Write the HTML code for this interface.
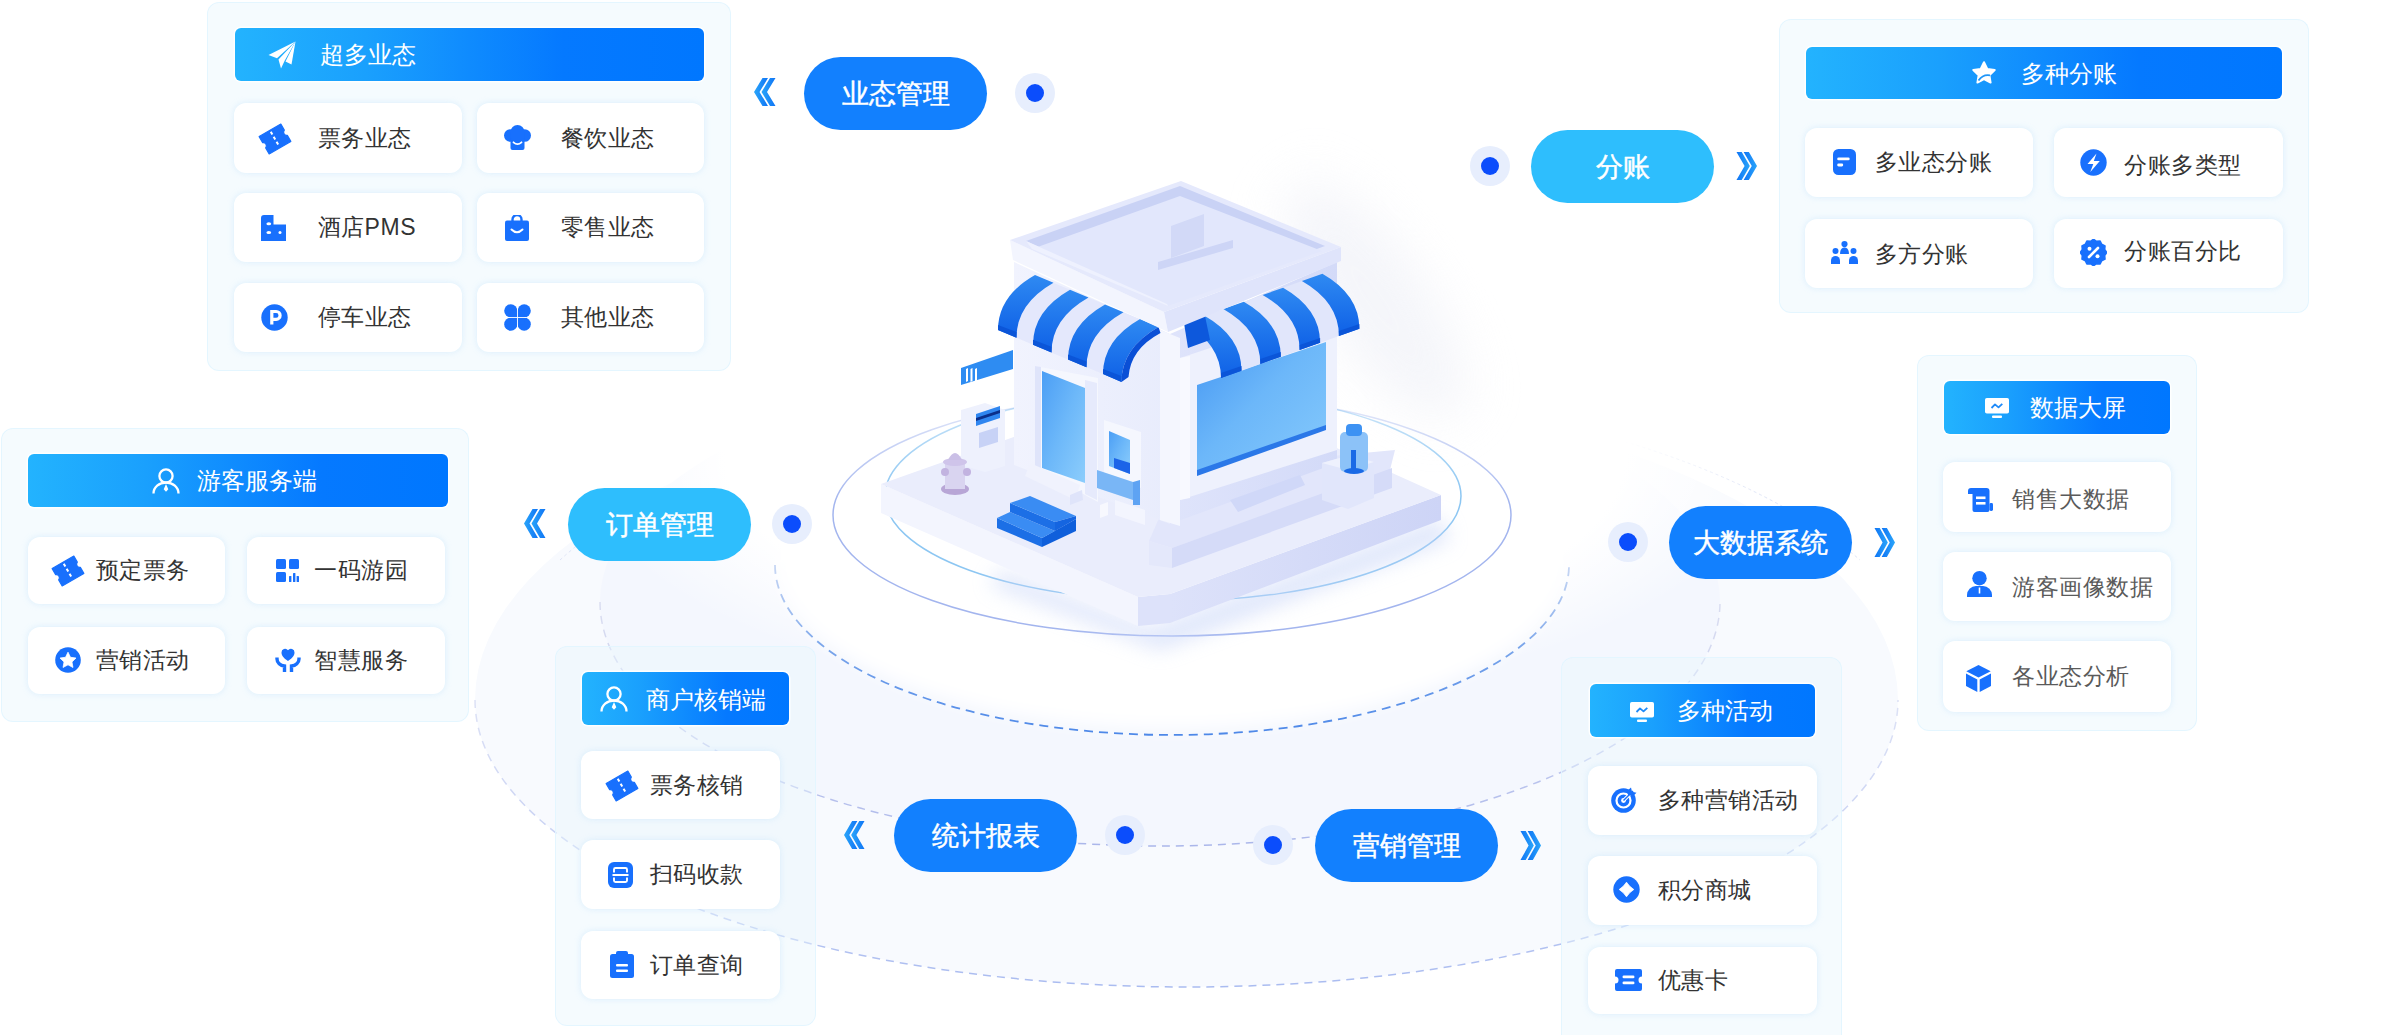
<!DOCTYPE html><html><head><meta charset="utf-8"><style>
*{margin:0;padding:0;box-sizing:border-box;}
html,body{width:2400px;height:1035px;overflow:hidden;background:#fff;}
body{position:relative;font-family:"Liberation Sans", sans-serif;}
.abs{position:absolute;}
.panel{position:absolute;border-radius:12px;background:rgba(232,246,253,0.45);border:1px solid rgba(226,245,255,0.9);}
.card{position:absolute;border-radius:12px;background:#fff;box-shadow:0 0 6px rgba(205,232,252,0.7);}
.hdr{position:absolute;border-radius:6px;box-shadow:0 0 0 1.5px rgba(255,255,255,0.9);background:linear-gradient(90deg,#23b3fe 0%,#1aa0fd 28%,#0f8bfe 50%,#0579ff 70%,#0077ff 100%);}
.htxt{position:absolute;color:#fff;font-size:24px;white-space:nowrap;}
.ctxt{position:absolute;color:#333;font-size:23px;letter-spacing:0.55px;white-space:nowrap;}
.pill{position:absolute;border-radius:40px;background:#1280fe;color:#fff;font-size:27px;text-align:center;-webkit-text-stroke:0.45px #fff;padding-top:1px;}
.pill.light{background:#2ebefd;}
.dot{position:absolute;width:40px;height:40px;border-radius:50%;background:#e7eefd;}
.dot::after{content:"";position:absolute;left:11px;top:11px;width:18px;height:18px;border-radius:50%;background:#0b4dfc;}
</style></head><body>
<svg class="abs" style="left:0;top:0" width="2400" height="1035" viewBox="0 0 2400 1035">
<defs>
<radialGradient id="glow" cx="0.5" cy="0.5" r="0.5"><stop offset="0" stop-color="#fff" stop-opacity="1"/><stop offset="0.75" stop-color="#fff" stop-opacity="1"/><stop offset="1" stop-color="#fff" stop-opacity="0"/></radialGradient>
<linearGradient id="sfade" x1="0" y1="0" x2="0" y2="1"><stop offset="0" stop-color="#a3b5ee" stop-opacity="0.25"/><stop offset="0.45" stop-color="#a3b5ee" stop-opacity="1"/><stop offset="1" stop-color="#a3b5ee" stop-opacity="1"/></linearGradient>
<linearGradient id="sfade2" x1="0" y1="0" x2="0" y2="1"><stop offset="0" stop-color="#8cc6f2" stop-opacity="0.4"/><stop offset="0.5" stop-color="#8cc6f2" stop-opacity="1"/><stop offset="1" stop-color="#8cc6f2" stop-opacity="1"/></linearGradient>
<linearGradient id="dgo" gradientUnits="userSpaceOnUse" x1="0" y1="700" x2="0" y2="990"><stop offset="0" stop-color="#c3cbee" stop-opacity="0.55"/><stop offset="0.6" stop-color="#b4c1f0" stop-opacity="0.8"/><stop offset="1" stop-color="#a9bbf0" stop-opacity="1"/></linearGradient>
<linearGradient id="dgm" gradientUnits="userSpaceOnUse" x1="0" y1="600" x2="0" y2="848"><stop offset="0" stop-color="#c8cce8" stop-opacity="0.6"/><stop offset="0.6" stop-color="#b9c2ec" stop-opacity="0.85"/><stop offset="1" stop-color="#aab6ea" stop-opacity="1"/></linearGradient>
<linearGradient id="dgi" gradientUnits="userSpaceOnUse" x1="0" y1="560" x2="0" y2="735"><stop offset="0" stop-color="#9ab6ea" stop-opacity="0.5"/><stop offset="0.5" stop-color="#6b9be8" stop-opacity="0.9"/><stop offset="1" stop-color="#4d88e8" stop-opacity="1"/></linearGradient>
<filter id="bgblur" x="-20%" y="-20%" width="140%" height="140%"><feGaussianBlur stdDeviation="8"/></filter>
</defs>
<path d="M475,700 A711.5,287 0 0 0 1898,700 A711.5,315 0 0 0 475,700 Z" fill="#f8fafe"/>
<path d="M560,560 A711.5,315 0 0 1 1100,386" fill="none" stroke="#dfe5f7" stroke-width="1" stroke-dasharray="3 3"/>
<path d="M1300,389 A711.5,315 0 0 1 1860,560" fill="none" stroke="#dfe5f7" stroke-width="1" stroke-dasharray="3 3"/>
<ellipse cx="1160" cy="602" rx="560" ry="244" fill="#f4f7fe"/>
<ellipse cx="1175" cy="455" rx="600" ry="250" fill="url(#glow)"/>
<ellipse cx="1172" cy="562" rx="392" ry="166" fill="#fff" filter="url(#bgblur)"/>
<path d="M475,700 A711.5,287 0 0 0 1898,700" fill="none" stroke="url(#dgo)" stroke-width="1.5" stroke-dasharray="8 6"/>
<path d="M600,602 A560,244 0 0 0 1720,602" fill="none" stroke="url(#dgm)" stroke-width="1.5" stroke-dasharray="8 6"/>
<path d="M775,565 A397,170 0 0 0 1569,565" fill="none" stroke="url(#dgi)" stroke-width="1.8" stroke-dasharray="9 6"/>
<ellipse cx="1172" cy="515" rx="339" ry="121" fill="none" stroke="url(#sfade)" stroke-width="1.5"/>
<ellipse cx="1173" cy="496" rx="288" ry="105" fill="none" stroke="url(#sfade2)" stroke-width="1.5"/>
</svg>
<div class="panel" style="left:207px;top:2px;width:524px;height:369px;"></div>
<div class="hdr" style="left:235px;top:28px;width:469px;height:53px;"></div>
<div class="abs" style="left:268.0px;top:41.3px;width:28px;height:28px;"><svg width="28" height="28" viewBox="0 0 28 28" style="display:block"><path d="M27.5 0.5 L0.5 14 l8.5 3.2 z" fill="#fff"/><path d="M27.5 0.5 L10.5 18.5 l2.5 9 3.5-7.5 z" fill="#fff"/><path d="M27.5 0.5 L17.5 20.5 l6 3z" fill="#fff"/></svg></div>
<div class="htxt" style="left:320.4px;top:35px;height:40px;line-height:40px;">超多业态</div>
<div class="card" style="left:234px;top:103px;width:228px;height:70px;"></div>
<div class="abs" style="left:257.6px;top:122.5px;width:34px;height:32px;"><svg width="34" height="32" viewBox="0 0 34 32" style="display:block"><g transform="rotate(-30 17 16)"><path d="M4.5 6 h25 v7 a3.2 3.2 0 0 0 0 6 v7 h-25 v-7 a3.2 3.2 0 0 0 0 -6z" fill="#1870fd" stroke="#1870fd" stroke-width="1.2" stroke-linejoin="round"/><path d="M17 7.5 v17" stroke="#fff" stroke-width="2" stroke-dasharray="3.2 2.6"/></g></svg></div>
<div class="ctxt" style="left:317.5px;top:103px;height:70px;line-height:70px;">票务业态</div>
<div class="card" style="left:477px;top:103px;width:227px;height:70px;"></div>
<div class="abs" style="left:504.1px;top:124.9px;width:27px;height:25px;"><svg width="27" height="25" viewBox="0 0 27 25" style="display:block"><circle cx="6.3" cy="10.5" r="6.3" fill="#1870fd"/><circle cx="20.7" cy="10.5" r="6.3" fill="#1870fd"/><circle cx="13.5" cy="7" r="7" fill="#1870fd"/><rect x="6.3" y="9" width="14.4" height="6" fill="#1870fd"/><rect x="6.5" y="13" width="14" height="12" rx="2" fill="#1870fd"/><path d="M9.5 17.3 q4 3.6 8 0" stroke="#fff" stroke-width="1.8" fill="none" stroke-linecap="round"/></svg></div>
<div class="ctxt" style="left:560.5px;top:103px;height:70px;line-height:70px;">餐饮业态</div>
<div class="card" style="left:234px;top:193px;width:228px;height:69px;"></div>
<div class="abs" style="left:261.1px;top:214.8px;width:25px;height:26px;"><svg width="25" height="26" viewBox="0 0 25 26" style="display:block"><path d="M0 3 a3 3 0 0 1 3-3 h9.5 v9.5 h12.5 v16.5 h-25z" fill="#1870fd"/><ellipse cx="7.8" cy="8.8" rx="2.4" ry="1.5" fill="#fff"/><ellipse cx="7.8" cy="17.5" rx="2.4" ry="1.5" fill="#fff"/><circle cx="19" cy="17.5" r="1.5" fill="#fff"/></svg></div>
<div class="ctxt" style="left:317.5px;top:193px;height:69px;line-height:69px;">酒店PMS</div>
<div class="card" style="left:477px;top:193px;width:227px;height:69px;"></div>
<div class="abs" style="left:504.5px;top:214.7px;width:24px;height:26px;"><svg width="24" height="26" viewBox="0 0 24 26" style="display:block"><path d="M7.5 6 v-1.5 a4.5 4.5 0 0 1 9 0 v1.5" stroke="#1870fd" stroke-width="2.4" fill="none"/><rect x="0" y="5.5" width="24" height="20.5" rx="2" fill="#1870fd"/><path d="M6.5 14.5 q5.5 5.5 11 0" stroke="#fff" stroke-width="2" fill="none" stroke-linecap="round"/></svg></div>
<div class="ctxt" style="left:560.5px;top:193px;height:69px;line-height:69px;">零售业态</div>
<div class="card" style="left:234px;top:283px;width:228px;height:69px;"></div>
<div class="abs" style="left:261.2px;top:304.2px;width:27px;height:27px;"><svg width="27" height="27" viewBox="0 0 27 27" style="display:block"><circle cx="13.5" cy="13.5" r="13.2" fill="#1870fd"/><path d="M10.8 20.5 v-13 h4.4 a3.9 3.9 0 0 1 0 7.8 h-4.4" stroke="#fff" stroke-width="3.2" fill="none"/></svg></div>
<div class="ctxt" style="left:317.5px;top:283px;height:69px;line-height:69px;">停车业态</div>
<div class="card" style="left:477px;top:283px;width:227px;height:69px;"></div>
<div class="abs" style="left:504.0px;top:304.2px;width:27px;height:27px;"><svg width="27" height="27" viewBox="0 0 27 27" style="display:block"><circle cx="6.8" cy="6.8" r="6.6" fill="#1870fd"/><circle cx="20.2" cy="6.8" r="6.6" fill="#1870fd"/><circle cx="6.8" cy="20.2" r="6.6" fill="#1870fd"/><circle cx="20.2" cy="20.2" r="6.6" fill="#1870fd"/><rect x="6.8" y="6.8" width="13.4" height="13.4" fill="#1870fd"/><path d="M13.5 5 v17 M5 13.5 h17" stroke="#fff" stroke-width="0.9"/></svg></div>
<div class="ctxt" style="left:560.5px;top:283px;height:69px;line-height:69px;">其他业态</div>
<div class="panel" style="left:1779px;top:19px;width:530px;height:294px;"></div>
<div class="hdr" style="left:1806px;top:47px;width:476px;height:52px;"></div>
<div class="abs" style="left:1972.0px;top:61.2px;width:24px;height:24px;"><svg width="24" height="24" viewBox="0 0 24 24" style="display:block"><path d="M12 1.2 l3.3 6.7 7.4 1.1 -5.35 5.2 1.25 7.35 -6.6-3.5 -6.6 3.5 1.25-7.35 -5.35-5.2 7.4-1.1z" fill="#fff" stroke="#fff" stroke-width="2" stroke-linejoin="round"/><path d="M6.5 19.5 q4.5-6.5 11.5-5.2" stroke="#1f96f8" stroke-width="1.8" fill="none"/></svg></div>
<div class="htxt" style="left:2021.4px;top:53.5px;height:40px;line-height:40px;">多种分账</div>
<div class="card" style="left:1805px;top:128px;width:228px;height:69px;"></div>
<div class="abs" style="left:1832.5px;top:149.0px;width:23px;height:26px;"><svg width="23" height="26" viewBox="0 0 23 26" style="display:block"><rect x="0" y="0" width="23" height="26" rx="5.5" fill="#1870fd"/><rect x="4.2" y="8.5" width="12.5" height="2.8" rx="1.4" fill="#fff"/><rect x="4.2" y="14.6" width="6" height="2.8" rx="1.4" fill="#fff"/></svg></div>
<div class="ctxt" style="left:1874.5px;top:127.5px;height:69px;line-height:69px;">多业态分账</div>
<div class="card" style="left:2054px;top:128px;width:229px;height:69px;"></div>
<div class="abs" style="left:2080.1px;top:149.1px;width:27px;height:27px;"><svg width="27" height="27" viewBox="0 0 27 27" style="display:block"><circle cx="13.5" cy="13.5" r="13.2" fill="#1870fd"/><path d="M16.5 4.5 l-9 10.5 h5.8 l-3 8 l9.5-11 h-6z" fill="#fff"/></svg></div>
<div class="ctxt" style="left:2124px;top:130.5px;height:69px;line-height:69px;">分账多类型</div>
<div class="card" style="left:1805px;top:219px;width:228px;height:69px;"></div>
<div class="abs" style="left:1830.7px;top:241.2px;width:27px;height:23px;"><svg width="27" height="23" viewBox="0 0 27 23" style="display:block"><circle cx="13.5" cy="3.1" r="3.1" fill="#1870fd"/><circle cx="4.5" cy="10" r="3" fill="#1870fd"/><circle cx="22.5" cy="10" r="3" fill="#1870fd"/><path d="M9.3 12.5 a4.2 4.2 0 0 1 8.4 0 v0.5 h-8.4z" fill="#1870fd"/><path d="M9.3 11 a4.2 4.5 0 0 1 8.4 0 v2 h-8.4z" fill="#1870fd"/><path d="M0 23 v-3.5 a4.5 4.5 0 0 1 9 0 v3.5z" fill="#1870fd"/><path d="M18 23 v-3.5 a4.5 4.5 0 0 1 9 0 v3.5z" fill="#1870fd"/></svg></div>
<div class="ctxt" style="left:1874.5px;top:219.5px;height:69px;line-height:69px;">多方分账</div>
<div class="card" style="left:2054px;top:219px;width:229px;height:69px;"></div>
<div class="abs" style="left:2080.1px;top:239.2px;width:27px;height:27px;"><svg width="27" height="27" viewBox="0 0 27 27" style="display:block"><polygon points="26.80,13.50 24.70,16.50 25.02,20.15 21.70,21.70 20.15,25.02 16.50,24.70 13.50,26.80 10.50,24.70 6.85,25.02 5.30,21.70 1.98,20.15 2.30,16.50 0.20,13.50 2.30,10.50 1.98,6.85 5.30,5.30 6.85,1.98 10.50,2.30 13.50,0.20 16.50,2.30 20.15,1.98 21.70,5.30 25.02,6.85 24.70,10.50" fill="#1870fd" stroke="#1870fd" stroke-width="1.5" stroke-linejoin="round"/><path d="M9 18 l9-9" stroke="#fff" stroke-width="2.6" stroke-linecap="round"/><circle cx="9.5" cy="9.8" r="2" fill="#fff"/><circle cx="17.5" cy="17.2" r="2" fill="#fff"/></svg></div>
<div class="ctxt" style="left:2124px;top:217px;height:69px;line-height:69px;">分账百分比</div>
<div class="panel" style="left:1px;top:428px;width:468px;height:294px;"></div>
<div class="hdr" style="left:28px;top:454px;width:420px;height:53px;"></div>
<div class="abs" style="left:152.2px;top:467.6px;width:28px;height:26px;"><svg width="28" height="26" viewBox="0 0 28 26" style="display:block"><circle cx="14" cy="8" r="6.6" fill="none" stroke="#fff" stroke-width="2.3"/><path d="M1.5 25.5 a12.5 11 0 0 1 25 0" fill="none" stroke="#fff" stroke-width="2.3"/><path d="M14 16 l-2.3 5.2 2.3 2.6 2.3-2.6z" fill="#fff"/></svg></div>
<div class="htxt" style="left:197.4px;top:461px;height:40px;line-height:40px;">游客服务端</div>
<div class="card" style="left:28px;top:537px;width:197px;height:67px;"></div>
<div class="abs" style="left:51.2px;top:555.0px;width:34px;height:32px;"><svg width="34" height="32" viewBox="0 0 34 32" style="display:block"><g transform="rotate(-30 17 16)"><path d="M4.5 6 h25 v7 a3.2 3.2 0 0 0 0 6 v7 h-25 v-7 a3.2 3.2 0 0 0 0 -6z" fill="#1870fd" stroke="#1870fd" stroke-width="1.2" stroke-linejoin="round"/><path d="M17 7.5 v17" stroke="#fff" stroke-width="2" stroke-dasharray="3.2 2.6"/></g></svg></div>
<div class="ctxt" style="left:95.5px;top:537px;height:67px;line-height:67px;">预定票务</div>
<div class="card" style="left:247px;top:537px;width:198px;height:67px;"></div>
<div class="abs" style="left:276.3px;top:558.9px;width:23px;height:23px;"><svg width="23" height="23" viewBox="0 0 23 23" style="display:block"><rect x="0" y="0" width="10" height="10" rx="1.5" fill="#1870fd"/><rect x="13" y="0" width="10" height="10" rx="1.5" fill="#1870fd"/><rect x="0" y="13" width="10" height="10" rx="1.5" fill="#1870fd"/><rect x="13" y="17" width="2.4" height="6" rx="0.6" fill="#1870fd"/><rect x="17" y="14" width="2.4" height="9" rx="0.6" fill="#1870fd"/><rect x="20.6" y="17" width="2.4" height="6" rx="0.6" fill="#1870fd"/></svg></div>
<div class="ctxt" style="left:314px;top:537px;height:67px;line-height:67px;">一码游园</div>
<div class="card" style="left:28px;top:627px;width:197px;height:67px;"></div>
<div class="abs" style="left:55.2px;top:647.2px;width:26px;height:26px;"><svg width="26" height="26" viewBox="0 0 26 26" style="display:block"><circle cx="13" cy="13" r="12.8" fill="#1870fd"/><path d="M13 5.2 l2.45 5.1 5.55 .75 -4.05 3.9 1 5.5 -4.95-2.65 -4.95 2.65 1-5.5 -4.05-3.9 5.55-.75z" fill="#fff" stroke="#fff" stroke-width="0.8" stroke-linejoin="round"/></svg></div>
<div class="ctxt" style="left:95.5px;top:627px;height:67px;line-height:67px;">营销活动</div>
<div class="card" style="left:247px;top:627px;width:198px;height:67px;"></div>
<div class="abs" style="left:274.8px;top:647.2px;width:26px;height:25px;"><svg width="26" height="25" viewBox="0 0 26 25" style="display:block"><path d="M13 14 c-5-3.2-6.5-6-6.5-8.5 a3.6 3.6 0 0 1 6.5-2.3 a3.6 3.6 0 0 1 6.5 2.3 c0 2.5-1.5 5.3-6.5 8.5z" fill="#1870fd"/><path d="M2 10.5 v1.5 a8 7 0 0 0 7.5 7 v6 M24 10.5 v1.5 a8 7 0 0 1 -7.5 7 v6" stroke="#1870fd" stroke-width="3.4" fill="none"/></svg></div>
<div class="ctxt" style="left:314px;top:627px;height:67px;line-height:67px;">智慧服务</div>
<div class="panel" style="left:1917px;top:355px;width:280px;height:376px;"></div>
<div class="hdr" style="left:1944px;top:381px;width:226px;height:53px;"></div>
<div class="abs" style="left:1984.9px;top:398.4px;width:24px;height:20px;"><svg width="24" height="20" viewBox="0 0 24 20" style="display:block"><rect x="0" y="0" width="24" height="15.5" rx="1.8" fill="#fff"/><rect x="7" y="17.5" width="10" height="2.5" rx="1" fill="#fff"/><path d="M6.5 10 l3.5-3.6 3.5 3 3.8-3.6" stroke="#1f8af8" stroke-width="1.8" fill="none" stroke-linejoin="round"/></svg></div>
<div class="htxt" style="left:2030.1px;top:388px;height:40px;line-height:40px;">数据大屏</div>
<div class="card" style="left:1943px;top:462px;width:228px;height:70px;"></div>
<div class="abs" style="left:1967.9px;top:487.5px;width:25px;height:24px;"><svg width="25" height="24" viewBox="0 0 25 24" style="display:block"><path d="M3.5 0 h15 a3 3 0 0 1 3 3 v19 a2 2 0 0 1-2 2 h-13 a2 2 0 0 1-2-2 v-16 h-4.5 v-3 a3 3 0 0 1 3-3z" fill="#1870fd"/><rect x="8" y="8.5" width="9.5" height="2.6" fill="#fff"/><rect x="8" y="14" width="9.5" height="2.6" fill="#fff"/><rect x="21.5" y="15" width="3.5" height="8" rx="1.4" fill="#1870fd"/></svg></div>
<div class="ctxt" style="left:2012px;top:463.5px;height:70px;line-height:70px;color:#5a5a5a;">销售大数据</div>
<div class="card" style="left:1943px;top:552px;width:228px;height:69px;"></div>
<div class="abs" style="left:1966.8px;top:571.0px;width:25px;height:26px;"><svg width="25" height="26" viewBox="0 0 25 26" style="display:block"><circle cx="12.5" cy="7.2" r="7.2" fill="#1870fd"/><path d="M0 26 v-2 a9 9 0 0 1 9-9 h7 a9 9 0 0 1 9 9 v2z" fill="#1870fd"/><path d="M12.5 16.5 v6" stroke="#fff" stroke-width="1.6"/></svg></div>
<div class="ctxt" style="left:2012px;top:552.5px;height:69px;line-height:69px;color:#5a5a5a;">游客画像数据</div>
<div class="card" style="left:1943px;top:641px;width:228px;height:71px;"></div>
<div class="abs" style="left:1966.4px;top:665.3px;width:25px;height:27px;"><svg width="25" height="27" viewBox="0 0 25 27" style="display:block"><path d="M12.5 0 l12.2 6.3 -12.2 6.3 -12.2-6.3z" fill="#1870fd"/><path d="M0 8.6 l11.3 5.9 v12.5 l-11.3-6z" fill="#1870fd"/><path d="M25 8.6 l-11.3 5.9 v12.5 l11.3-6z" fill="#1870fd"/></svg></div>
<div class="ctxt" style="left:2012px;top:641px;height:71px;line-height:71px;color:#5a5a5a;">各业态分析</div>
<div class="panel" style="left:555px;top:646px;width:261px;height:380px;"></div>
<div class="hdr" style="left:582px;top:672px;width:207px;height:53px;"></div>
<div class="abs" style="left:600.3px;top:686.2px;width:28px;height:26px;"><svg width="28" height="26" viewBox="0 0 28 26" style="display:block"><circle cx="14" cy="8" r="6.6" fill="none" stroke="#fff" stroke-width="2.3"/><path d="M1.5 25.5 a12.5 11 0 0 1 25 0" fill="none" stroke="#fff" stroke-width="2.3"/><path d="M14 16 l-2.3 5.2 2.3 2.6 2.3-2.6z" fill="#fff"/></svg></div>
<div class="htxt" style="left:646.2px;top:680px;height:40px;line-height:40px;">商户核销端</div>
<div class="card" style="left:581px;top:751px;width:199px;height:68px;"></div>
<div class="abs" style="left:605.4px;top:770.0px;width:34px;height:32px;"><svg width="34" height="32" viewBox="0 0 34 32" style="display:block"><g transform="rotate(-30 17 16)"><path d="M4.5 6 h25 v7 a3.2 3.2 0 0 0 0 6 v7 h-25 v-7 a3.2 3.2 0 0 0 0 -6z" fill="#1870fd" stroke="#1870fd" stroke-width="1.2" stroke-linejoin="round"/><path d="M17 7.5 v17" stroke="#fff" stroke-width="2" stroke-dasharray="3.2 2.6"/></g></svg></div>
<div class="ctxt" style="left:649.5px;top:751px;height:68px;line-height:68px;">票务核销</div>
<div class="card" style="left:581px;top:840px;width:199px;height:69px;"></div>
<div class="abs" style="left:608.0px;top:862.3px;width:25px;height:26px;"><svg width="25" height="26" viewBox="0 0 25 26" style="display:block"><rect x="0" y="0" width="25" height="26" rx="6" fill="#1870fd"/><path d="M6 10.5 v-3 a1.5 1.5 0 0 1 1.5-1.5 h10 a1.5 1.5 0 0 1 1.5 1.5 v3 M6 15.5 v3 a1.5 1.5 0 0 0 1.5 1.5 h10 a1.5 1.5 0 0 0 1.5-1.5 v-3 M4.5 13 h16" stroke="#fff" stroke-width="1.9" fill="none"/></svg></div>
<div class="ctxt" style="left:649.5px;top:840px;height:69px;line-height:69px;">扫码收款</div>
<div class="card" style="left:581px;top:931px;width:199px;height:68px;"></div>
<div class="abs" style="left:610.0px;top:950.5px;width:24px;height:27px;"><svg width="24" height="27" viewBox="0 0 24 27" style="display:block"><rect x="0" y="3" width="24" height="24" rx="2.5" fill="#1870fd"/><rect x="6" y="0" width="12" height="6" rx="2" fill="#1870fd"/><rect x="6" y="13" width="12" height="2.6" rx="1" fill="#fff"/><rect x="6" y="18.5" width="12" height="2.6" rx="1" fill="#fff"/></svg></div>
<div class="ctxt" style="left:649.5px;top:931px;height:68px;line-height:68px;">订单查询</div>
<div class="panel" style="left:1561px;top:657px;width:281px;height:393px;"></div>
<div class="hdr" style="left:1590px;top:684px;width:225px;height:53px;"></div>
<div class="abs" style="left:1630.0px;top:701.5px;width:24px;height:20px;"><svg width="24" height="20" viewBox="0 0 24 20" style="display:block"><rect x="0" y="0" width="24" height="15.5" rx="1.8" fill="#fff"/><rect x="7" y="17.5" width="10" height="2.5" rx="1" fill="#fff"/><path d="M6.5 10 l3.5-3.6 3.5 3 3.8-3.6" stroke="#1f8af8" stroke-width="1.8" fill="none" stroke-linejoin="round"/></svg></div>
<div class="htxt" style="left:1676.9px;top:691px;height:40px;line-height:40px;">多种活动</div>
<div class="card" style="left:1588px;top:766px;width:229px;height:69px;"></div>
<div class="abs" style="left:1610.9px;top:786.7px;width:27px;height:26px;"><svg width="27" height="26" viewBox="0 0 27 26" style="display:block"><circle cx="12.5" cy="13.5" r="12.3" fill="#1870fd"/><circle cx="12.5" cy="13.5" r="7" fill="none" stroke="#fff" stroke-width="2.2"/><circle cx="12.5" cy="13.5" r="2.4" fill="#fff"/><path d="M12.5 13.5 l9.5-9.5" stroke="#fff" stroke-width="3.4"/><path d="M12.5 13.5 l9.5-9.5" stroke="#1870fd" stroke-width="1.4"/><path d="M20 0.5 l1 4.2 4.5 1 -3.6 3.6 -4.8-1.2 -1.1-4z" fill="#1870fd"/></svg></div>
<div class="ctxt" style="left:1657.5px;top:766px;height:69px;line-height:69px;">多种营销活动</div>
<div class="card" style="left:1588px;top:856px;width:229px;height:69px;"></div>
<div class="abs" style="left:1612.7px;top:876.3px;width:27px;height:27px;"><svg width="27" height="27" viewBox="0 0 27 27" style="display:block"><circle cx="13.5" cy="13.5" r="13.2" fill="#1870fd"/><path d="M13.5 6.2 Q16.3 10.7 20.8 13.5 Q16.3 16.3 13.5 20.8 Q10.7 16.3 6.2 13.5 Q10.7 10.7 13.5 6.2z" fill="#fff" stroke="#fff" stroke-width="0.8" stroke-linejoin="round"/></svg></div>
<div class="ctxt" style="left:1657.5px;top:856px;height:69px;line-height:69px;">积分商城</div>
<div class="card" style="left:1588px;top:947px;width:229px;height:67px;"></div>
<div class="abs" style="left:1615.1px;top:968.6px;width:27px;height:22px;"><svg width="27" height="22" viewBox="0 0 27 22" style="display:block"><path d="M2 0 h23 a2 2 0 0 1 2 2 v5.5 a3.5 3.5 0 0 0 0 7 v5.5 a2 2 0 0 1-2 2 h-23 a2 2 0 0 1-2-2 v-5.5 a3.5 3.5 0 0 0 0-7 v-5.5 a2 2 0 0 1 2-2z" fill="#1870fd"/><rect x="7.5" y="6.5" width="12" height="2.8" rx="1.4" fill="#fff"/><rect x="7.5" y="12.5" width="12" height="2.8" rx="1.4" fill="#fff"/></svg></div>
<div class="ctxt" style="left:1657.5px;top:947px;height:67px;line-height:67px;">优惠卡</div>
<svg class="abs" style="left:0;top:0" width="2400" height="1035" viewBox="0 0 2400 1035">
<defs>
<linearGradient id="glass" x1="0" y1="0" x2="1" y2="1"><stop offset="0" stop-color="#4b9ef5"/><stop offset="0.5" stop-color="#6db8f9"/><stop offset="1" stop-color="#8ccdfc"/></linearGradient>
<linearGradient id="glass2" x1="0" y1="0" x2="1" y2="1"><stop offset="0" stop-color="#4597f3"/><stop offset="0.45" stop-color="#6cb7f9"/><stop offset="1" stop-color="#86cafc"/></linearGradient>
<linearGradient id="blueA" x1="0" y1="0" x2="0" y2="1"><stop offset="0" stop-color="#2f8af2"/><stop offset="1" stop-color="#0e60e6"/></linearGradient>
<linearGradient id="rface" x1="0" y1="0" x2="1" y2="0"><stop offset="0" stop-color="#dde2fa"/><stop offset="1" stop-color="#cdd4f6"/></linearGradient>
<linearGradient id="lwall" x1="0" y1="0" x2="1" y2="0"><stop offset="0" stop-color="#f1f3fe"/><stop offset="1" stop-color="#e8ecfc"/></linearGradient>
<linearGradient id="rwall" x1="0" y1="0" x2="1" y2="0"><stop offset="0" stop-color="#dfe4fb"/><stop offset="1" stop-color="#d3daf8"/></linearGradient>
<filter id="blur8" x="-20%" y="-20%" width="140%" height="140%"><feGaussianBlur stdDeviation="10"/></filter>
<filter id="blur20" x="-50%" y="-50%" width="200%" height="200%"><feGaussianBlur stdDeviation="25"/></filter>
<filter id="blur3" x="-20%" y="-20%" width="140%" height="140%"><feGaussianBlur stdDeviation="3"/></filter>
</defs>
<polygon points="1000.0,570.0 1150.0,628.0 1440.0,518.0 1450.0,540.0 1160.0,650.0 990.0,585.0" fill="#c9d6f8" filter="url(#blur8)" opacity="0.6"/>
<ellipse cx="1375" cy="300" rx="50" ry="140" transform="rotate(-35 1375 300)" fill="#eceef6" filter="url(#blur20)" opacity="0.55"/><polygon points="881.0,484.0 1138.0,597.0 1138.0,626.0 881.0,513.0" fill="#f3f5fe" />
<polygon points="1138.0,597.0 1170.0,594.0 1170.0,623.0 1138.0,626.0" fill="#dde2fa" />
<polygon points="1170.0,594.0 1441.0,495.0 1441.0,520.0 1170.0,623.0" fill="url(#rface)" />
<polygon points="1181.0,378.0 881.0,484.0 1138.0,597.0 1170.0,594.0 1441.0,495.0" fill="#eaedfc" />
<polygon points="1149.0,541.0 1172.0,548.0 1390.0,470.0 1395.0,450.0 1180.0,470.0" fill="#e2e6fb" />
<polygon points="1149.0,541.0 1172.0,548.0 1172.0,568.0 1149.0,565.0" fill="#e4e8fb" />
<polygon points="1172.0,548.0 1392.0,468.0 1392.0,488.0 1172.0,568.0" fill="#d5dbf8" />
<polygon points="1014.0,262.0 1170.0,334.0 1170.0,524.0 1014.0,465.0" fill="url(#lwall)" />
<polygon points="1170.0,334.0 1337.0,262.0 1337.0,463.0 1170.0,524.0" fill="url(#rwall)" />
<polygon points="1160.0,330.0 1180.0,338.0 1180.0,526.0 1160.0,520.0" fill="#f4f6fe" />
<polygon points="1035.0,366.0 1098.0,378.0 1098.0,502.0 1035.0,468.0" fill="#f5f7fe" />
<polygon points="1035.0,366.0 1041.0,367.0 1041.0,470.0 1035.0,468.0" fill="#dfe4fa" />
<polygon points="1042.0,371.0 1085.0,388.0 1085.0,483.0 1042.0,468.0" fill="url(#glass)" />
<polygon points="1085.0,380.0 1097.0,383.0 1097.0,500.0 1085.0,494.0" fill="#e6eafc" />
<polygon points="1030.0,463.0 1080.0,485.0 1075.0,500.0 1025.0,476.0" fill="#f0f2fd" />
<polygon points="1070.0,495.0 1082.0,490.0 1083.0,500.0 1070.0,505.0" fill="#dfe4fa" />
<polygon points="1104.0,420.0 1141.0,432.0 1141.0,488.0 1104.0,475.0" fill="#f5f7fe" />
<polygon points="1109.0,431.0 1130.0,440.0 1130.0,474.0 1109.0,466.0" fill="url(#glass)" />
<polygon points="1114.0,458.0 1130.0,463.0 1130.0,474.0 1114.0,468.0" fill="#1c64e8" />
<polygon points="1097.0,470.0 1133.0,482.0 1133.0,500.0 1097.0,488.0" fill="#79b6f6" />
<polygon points="1133.0,482.0 1140.0,480.0 1140.0,505.0 1133.0,505.0" fill="#5ea3f3" />
<polygon points="1100.0,505.0 1108.0,502.0 1108.0,515.0 1100.0,518.0" fill="#f7f8fe" />
<polygon points="1115.0,500.0 1145.0,510.0 1145.0,525.0 1115.0,515.0" fill="#f3f5fe" />
<polygon points="1180.0,358.0 1337.0,306.0 1337.0,450.0 1180.0,500.0" fill="#eef1fd" />
<polygon points="1180.0,358.0 1190.0,356.0 1190.0,498.0 1180.0,500.0" fill="#f8f9ff" />
<polygon points="1197.0,385.0 1326.0,342.0 1326.0,429.0 1197.0,475.0" fill="url(#glass2)" />
<polygon points="1197.0,470.0 1326.0,425.0 1326.0,430.0 1197.0,476.0" fill="#2b78e8" />
<polygon points="1230.0,500.0 1300.0,475.0 1305.0,485.0 1238.0,512.0" fill="#d0d8f8" />
<path d="M1052.0,282.2 Q1015.0,303.2 1015.0,337.2 L1033.0,344.7 Q1033.0,310.7 1070.0,289.7 Z" fill="#e4e8fc"/>
<path d="M1087.0,296.9 Q1050.0,317.9 1050.0,351.9 L1068.0,359.4 Q1068.0,325.4 1105.0,304.4 Z" fill="#e4e8fc"/>
<path d="M1122.0,311.6 Q1085.0,332.6 1085.0,366.6 L1103.0,374.1 Q1103.0,340.1 1140.0,319.1 Z" fill="#e4e8fc"/>
<path d="M1035.0,275.0 Q998.0,296.0 998.0,330.0 L1016.5,337.8 Q1016.5,303.8 1053.5,282.8 Z" fill="url(#blueA)"/>
<polygon points="998.0,330.0 1016.5,337.8 1016.5,332.0 998.0,325.0" fill="#0b55d8" />
<path d="M1070.0,289.7 Q1033.0,310.7 1033.0,344.7 L1051.5,352.5 Q1051.5,318.5 1088.5,297.5 Z" fill="url(#blueA)"/>
<polygon points="1033.0,344.7 1051.5,352.5 1051.5,346.7 1033.0,339.7" fill="#0b55d8" />
<path d="M1105.0,304.4 Q1068.0,325.4 1068.0,359.4 L1086.5,367.2 Q1086.5,333.2 1123.5,312.2 Z" fill="url(#blueA)"/>
<polygon points="1068.0,359.4 1086.5,367.2 1086.5,361.4 1068.0,354.4" fill="#0b55d8" />
<path d="M1140.0,319.1 Q1103.0,340.1 1103.0,374.1 L1121.5,381.9 Q1121.5,347.9 1158.5,326.9 Z" fill="url(#blueA)"/>
<polygon points="1103.0,374.1 1121.5,381.9 1121.5,376.1 1103.0,369.1" fill="#0b55d8" />
<path d="M1158.5,326.9 Q1121.5,347.9 1121.5,381.9 L1128.5,376.9 Q1130.5,348.9 1160.5,332.9 Z" fill="#0a4fd6"/>
<path d="M1204.0,315.9 Q1241.0,336.9 1241.0,370.9 L1260.3,364.0 Q1260.3,330.0 1223.3,309.0 Z" fill="#e1e6fb"/>
<path d="M1243.3,301.9 Q1280.3,322.9 1280.3,356.9 L1299.6,350.0 Q1299.6,316.0 1262.6,295.0 Z" fill="#e1e6fb"/>
<path d="M1282.6,287.9 Q1319.6,308.9 1319.6,342.9 L1338.9,336.0 Q1338.9,302.0 1301.9,281.0 Z" fill="#e1e6fb"/>
<path d="M1184.0,323.0 Q1221.0,344.0 1221.0,378.0 L1241.5,370.7 Q1241.5,336.7 1204.5,315.7 Z" fill="url(#blueA)"/>
<polygon points="1221.0,378.0 1241.5,370.7 1241.5,366.0 1221.0,373.0" fill="#0b55d8" />
<path d="M1223.3,309.0 Q1260.3,330.0 1260.3,364.0 L1280.8,356.7 Q1280.8,322.7 1243.8,301.7 Z" fill="url(#blueA)"/>
<polygon points="1260.3,364.0 1280.8,356.7 1280.8,352.0 1260.3,359.0" fill="#0b55d8" />
<path d="M1262.6,295.0 Q1299.6,316.0 1299.6,350.0 L1320.1,342.7 Q1320.1,308.7 1283.1,287.7 Z" fill="url(#blueA)"/>
<polygon points="1299.6,350.0 1320.1,342.7 1320.1,338.0 1299.6,345.0" fill="#0b55d8" />
<path d="M1301.9,281.0 Q1338.9,302.0 1338.9,336.0 L1359.4,328.7 Q1359.4,294.7 1322.4,273.7 Z" fill="url(#blueA)"/>
<polygon points="1338.9,336.0 1359.4,328.7 1359.4,324.0 1338.9,331.0" fill="#0b55d8" />
<polygon points="1184.0,323.0 1205.0,316.0 1210.0,340.0 1188.0,348.0" fill="#0d58dc" />
<polygon points="1010.0,240.0 1164.0,312.0 1168.0,332.0 1013.0,260.0" fill="#f3f5fe" />
<polygon points="1164.0,312.0 1341.0,247.0 1341.0,261.0 1168.0,332.0" fill="#dfe4fb" />
<polygon points="1010.0,240.0 1181.0,181.0 1341.0,247.0 1164.0,312.0" fill="#e5e9fc" />
<polygon points="1026.0,241.0 1180.0,186.0 1325.0,246.0 1167.0,304.0" fill="#c9d2f5" />
<polygon points="1032.0,249.0 1180.0,196.0 1322.0,251.0 1168.0,306.0" fill="#e2e7fc" />
<polygon points="1026.0,241.0 1032.0,249.0 1168.0,306.0 1167.0,304.0" fill="#eef1fe" />
<polygon points="1171.0,226.0 1204.0,214.0 1204.0,246.0 1171.0,258.0" fill="#d2d9f7" />
<polygon points="1158.0,262.0 1233.0,240.0 1233.0,248.0 1158.0,270.0" fill="#cdd5f6" />
<polygon points="961.0,368.0 1013.0,350.0 1013.0,369.0 961.0,385.0" fill="#2e8cf2" />
<polygon points="966.0,369.0 968.0,368.0 968.0,381.0 966.0,382.0" fill="#ffffff" />
<polygon points="970.5,369.0 972.5,368.0 972.5,381.0 970.5,382.0" fill="#ffffff" />
<polygon points="975.0,369.0 977.0,368.0 977.0,381.0 975.0,382.0" fill="#ffffff" />
<polygon points="961.0,410.0 985.0,403.0 1005.0,410.0 1005.0,466.0 985.0,472.0 961.0,465.0" fill="#eef1fd" />
<polygon points="976.0,414.0 1000.0,406.0 1000.0,418.0 976.0,426.0" fill="#2f86f0" />
<polygon points="976.0,418.0 1000.0,410.0 1000.0,413.0 976.0,421.0" fill="#0a2f8a" />
<polygon points="979.0,433.0 998.0,427.0 998.0,442.0 979.0,448.0" fill="#c7d2f6" />
<g><ellipse cx="955" cy="489" rx="14" ry="6" fill="#b8a6d6"/><rect x="945" y="462" width="20" height="27" fill="#d9d4f0"/><ellipse cx="955" cy="462" rx="12" ry="4" fill="#cfc4ea"/><circle cx="945" cy="472" r="4" fill="#c2b3e0"/><circle cx="967" cy="472" r="4" fill="#c2b3e0"/><path d="M948 460 q7-14 14 0z" fill="#cabfe6"/></g>
<polygon points="997.0,518.0 1042.0,538.0 1042.0,547.0 997.0,528.0" fill="#1c6fe6" />
<polygon points="1042.0,538.0 1076.0,519.0 1076.0,531.0 1042.0,547.0" fill="#0f5fdb" />
<polygon points="997.0,518.0 1010.0,512.0 1055.0,531.0 1042.0,538.0" fill="#3a8cf3" />
<polygon points="1010.0,503.0 1055.0,522.0 1055.0,531.0 1010.0,512.0" fill="#1c6fe6" />
<polygon points="1010.0,503.0 1030.0,496.0 1076.0,516.0 1055.0,522.0" fill="#3a8cf3" />
<polygon points="1055.0,522.0 1076.0,516.0 1076.0,519.0 1055.0,531.0" fill="#1565e0" />
<polygon points="1322.0,463.0 1350.0,455.0 1374.0,462.0 1374.0,498.0 1348.0,509.0 1322.0,500.0" fill="#e1e6fb" />
<polygon points="1322.0,463.0 1350.0,455.0 1374.0,462.0 1348.0,470.0" fill="#eef1fd" />
<rect x="1340" y="432" width="28" height="40" rx="5" fill="#8cc2f8"/><rect x="1346" y="424" width="16" height="12" rx="4" fill="#3d92f3"/><rect x="1351" y="450" width="5" height="20" fill="#1a6ae6"/><ellipse cx="1354" cy="471" rx="10" ry="3" fill="#1a6ae6"/></svg>
<div class="pill" style="left:804px;top:57px;width:183px;height:73px;line-height:73px;">业态管理</div>
<div class="pill light" style="left:1531px;top:130px;width:183px;height:73px;line-height:73px;">分账</div>
<div class="pill light" style="left:568px;top:488px;width:183px;height:73px;line-height:73px;">订单管理</div>
<div class="pill" style="left:1669px;top:506px;width:183px;height:73px;line-height:73px;">大数据系统</div>
<div class="pill" style="left:894px;top:799px;width:183px;height:73px;line-height:73px;">统计报表</div>
<div class="pill" style="left:1315px;top:809px;width:183px;height:73px;line-height:73px;">营销管理</div>
<div class="dot" style="left:1015px;top:73px;"></div>
<div class="dot" style="left:1470px;top:146px;"></div>
<div class="dot" style="left:772px;top:504px;"></div>
<div class="dot" style="left:1608px;top:522px;"></div>
<div class="dot" style="left:1105px;top:815px;"></div>
<div class="dot" style="left:1253px;top:825px;"></div>
<svg class="abs" style="left:754px;top:78px;" width="22" height="28" viewBox="0 0 22 28"><defs><linearGradient id="cgL754" x1="0" x2="1" y1="0" y2="0"><stop offset="0" stop-color="#2aa6fa"/><stop offset="1" stop-color="#0f74f5"/></linearGradient></defs><polygon points="0.00,14.00 8.50,0.00 14.00,0.00 5.50,14.00 14.00,28.00 8.50,28.00" fill="url(#cgL754)"/><polygon points="7.50,14.00 16.00,0.00 21.50,0.00 13.00,14.00 21.50,28.00 16.00,28.00" fill="url(#cgL754)"/></svg>
<svg class="abs" style="left:1736px;top:152px;" width="21" height="28" viewBox="0 0 21 28"><defs><linearGradient id="cgR1736" x1="0" x2="1" y1="0" y2="0"><stop offset="0" stop-color="#0f74f5"/><stop offset="1" stop-color="#2aa6fa"/></linearGradient></defs><polygon points="21.00,14.00 12.89,0.00 7.64,0.00 15.75,14.00 7.64,28.00 12.89,28.00" fill="url(#cgR1736)"/><polygon points="13.84,14.00 5.73,0.00 0.48,0.00 8.59,14.00 0.48,28.00 5.73,28.00" fill="url(#cgR1736)"/></svg>
<svg class="abs" style="left:524px;top:509px;" width="22" height="29" viewBox="0 0 22 29"><defs><linearGradient id="cgL524" x1="0" x2="1" y1="0" y2="0"><stop offset="0" stop-color="#2aa6fa"/><stop offset="1" stop-color="#0f74f5"/></linearGradient></defs><polygon points="0.00,14.50 8.50,0.00 14.00,0.00 5.50,14.50 14.00,29.00 8.50,29.00" fill="url(#cgL524)"/><polygon points="7.50,14.50 16.00,0.00 21.50,0.00 13.00,14.50 21.50,29.00 16.00,29.00" fill="url(#cgL524)"/></svg>
<svg class="abs" style="left:1874px;top:528px;" width="21" height="29" viewBox="0 0 21 29"><defs><linearGradient id="cgR1874" x1="0" x2="1" y1="0" y2="0"><stop offset="0" stop-color="#0f74f5"/><stop offset="1" stop-color="#2aa6fa"/></linearGradient></defs><polygon points="21.00,14.50 12.89,0.00 7.64,0.00 15.75,14.50 7.64,29.00 12.89,29.00" fill="url(#cgR1874)"/><polygon points="13.84,14.50 5.73,0.00 0.48,0.00 8.59,14.50 0.48,29.00 5.73,29.00" fill="url(#cgR1874)"/></svg>
<svg class="abs" style="left:844px;top:821px;" width="21" height="28" viewBox="0 0 21 28"><defs><linearGradient id="cgL844" x1="0" x2="1" y1="0" y2="0"><stop offset="0" stop-color="#2aa6fa"/><stop offset="1" stop-color="#0f74f5"/></linearGradient></defs><polygon points="0.00,14.00 8.11,0.00 13.36,0.00 5.25,14.00 13.36,28.00 8.11,28.00" fill="url(#cgL844)"/><polygon points="7.16,14.00 15.27,0.00 20.52,0.00 12.41,14.00 20.52,28.00 15.27,28.00" fill="url(#cgL844)"/></svg>
<svg class="abs" style="left:1520px;top:831px;" width="21" height="29" viewBox="0 0 21 29"><defs><linearGradient id="cgR1520" x1="0" x2="1" y1="0" y2="0"><stop offset="0" stop-color="#0f74f5"/><stop offset="1" stop-color="#2aa6fa"/></linearGradient></defs><polygon points="21.00,14.50 12.89,0.00 7.64,0.00 15.75,14.50 7.64,29.00 12.89,29.00" fill="url(#cgR1520)"/><polygon points="13.84,14.50 5.73,0.00 0.48,0.00 8.59,14.50 0.48,29.00 5.73,29.00" fill="url(#cgR1520)"/></svg>
</body></html>
